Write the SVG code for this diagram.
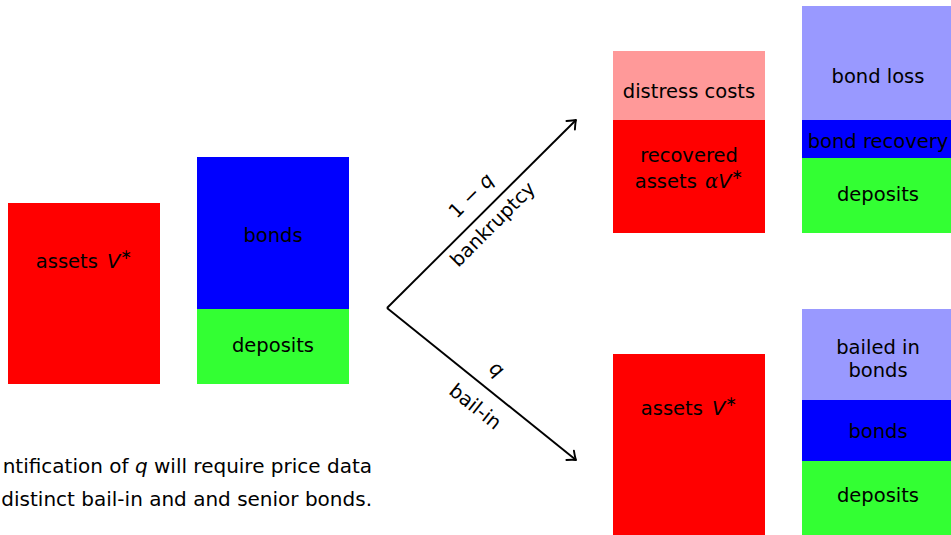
<svg xmlns="http://www.w3.org/2000/svg" width="951" height="535" viewBox="0 0 951 535">
  <style>
    text { font-family: "DejaVu Sans", "Liberation Sans", sans-serif; font-size: 19.5px; fill: #000; }
    .c { text-anchor: middle; }
    .e { text-anchor: end; font-size: 20px; }
    .m { font-style: italic; }
    .g { font-family: "DejaVu Serif", "Liberation Serif", serif; font-style: italic; }
    .sup { font-size: 14px; }
    .red { fill: #ff0000; }
    .pink { fill: #ff9999; }
    .blue { fill: #0000ff; }
    .lblue { fill: #9999ff; }
    .green { fill: #33ff33; }
    .edge { stroke: #000; stroke-width: 1.9; fill: none; }
  </style>
  <defs>
    <marker id="tip" markerUnits="userSpaceOnUse" viewBox="-10 -8 12 16" refX="0" refY="0" markerWidth="12" markerHeight="16" orient="auto" overflow="visible">
      <path d="M -7.5,-6 Q -2.5,-1.5 0,0 Q -2.5,1.5 -7.5,6" stroke="#000" stroke-width="1.9" fill="none" stroke-linecap="round" stroke-linejoin="round"/>
    </marker>
  </defs>

  <!-- balance sheet before resolution -->
  <g id="assets-before">
    <rect class="red" x="8" y="203" width="152" height="181"/>
    <text class="c" x="84" y="268">assets <tspan class="m" dx="3">V</tspan><tspan class="sup" dy="-9">∗</tspan></text>
  </g>
  <g id="liabilities-before">
    <rect class="blue" x="197" y="157" width="152" height="152"/>
    <rect class="green" x="197" y="309" width="152" height="75"/>
    <text class="c" x="273" y="242">bonds</text>
    <text class="c" x="273" y="352">deposits</text>
  </g>

  <!-- bankruptcy outcome -->
  <g id="assets-bankruptcy">
    <rect class="pink" x="613" y="51" width="152" height="69"/>
    <rect class="red" x="613" y="120" width="152" height="113"/>
    <text class="c" x="689" y="98">distress costs</text>
    <text class="c" x="689" y="162">recovered</text>
    <text class="c" x="689" y="188">assets <tspan class="g" dx="2">α</tspan><tspan class="m">V</tspan><tspan class="sup" dy="-9">∗</tspan></text>
  </g>
  <g id="liabilities-bankruptcy">
    <rect class="lblue" x="802" y="6" width="152" height="114"/>
    <rect class="blue" x="802" y="120" width="152" height="38"/>
    <rect class="green" x="802" y="158" width="152" height="75"/>
    <text class="c" x="878" y="83">bond loss</text>
    <text class="c" x="878" y="148">bond recovery</text>
    <text class="c" x="878" y="201">deposits</text>
  </g>

  <!-- bail-in outcome -->
  <g id="assets-bailin">
    <rect class="red" x="613" y="354" width="152" height="181"/>
    <text class="c" x="689" y="415">assets <tspan class="m" dx="3">V</tspan><tspan class="sup" dy="-9">∗</tspan></text>
  </g>
  <g id="liabilities-bailin">
    <rect class="lblue" x="802" y="309" width="152" height="91"/>
    <rect class="blue" x="802" y="400" width="152" height="61"/>
    <rect class="green" x="802" y="461" width="152" height="74"/>
    <text class="c" x="878" y="354">bailed in</text>
    <text class="c" x="878" y="377">bonds</text>
    <text class="c" x="878" y="438">bonds</text>
    <text class="c" x="878" y="502">deposits</text>
  </g>

  <!-- branching connectors -->
  <g id="connectors">
    <path class="edge" d="M 387,308 L 576,120" marker-end="url(#tip)"/>
    <path class="edge" d="M 387,308 L 576,460" marker-end="url(#tip)"/>
    <text class="c" transform="translate(475.8,200.2) rotate(-45)">1 − <tspan class="m">q</tspan></text>
    <text class="c" transform="translate(497.3,228.9) rotate(-45)">bankruptcy</text>
    <text class="c m" transform="translate(492.8,374.2) rotate(38.8)">q</text>
    <text class="c" transform="translate(471.2,411.7) rotate(38.8)">bail-in</text>
  </g>

  <!-- note -->
  <g id="note">
    <text class="e" x="372" y="473">ntification of <tspan class="m">q</tspan> will require price data</text>
    <text class="e" x="372" y="506">distinct bail-in and and senior bonds.</text>
  </g>
</svg>
